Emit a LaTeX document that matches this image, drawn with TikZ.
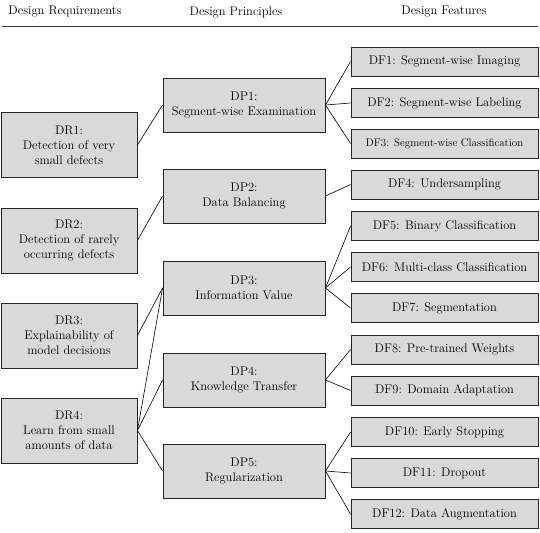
\documentclass[tikz,border=0pt]{standalone}
\usepackage{tikz}

\begin{document}
\begin{tikzpicture}[x=1pt,y=-1pt,
  every node/.style={font=\fontsize{12.5}{15}\selectfont},
  box/.style={draw=black!85,fill=black!15,line width=0.9pt,inner sep=0pt,align=center},
  reqbox/.style={box,minimum width=136pt,minimum height=65pt},
  prinbox/.style={box,minimum width=162pt,minimum height=54pt},
  featbox/.style={box,minimum width=187pt,minimum height=29pt},
  link/.style={black,line width=0.6pt}]
  \useasboundingbox (0,0) rectangle (540,532);

  % column headings
  \node (hreq) at (65,12) {Design Requirements};
  \node (hprin) at (236,12) {Design Principles};
  \node (hfeat) at (444,12) {Design Features};
  \draw[line width=0.9pt,black!80] (2,26) -- (538,26);

  % design requirements
  \node[reqbox] (dr1) at (69,145) {DR1:\\Detection of very\\small defects};
  \node[reqbox] (dr2) at (69,240.5) {DR2:\\Detection of rarely\\occurring defects};
  \node[reqbox] (dr3) at (69,335.5) {DR3:\\Explainability of\\model decisions};
  \node[reqbox] (dr4) at (69,430.5) {DR4:\\Learn from small\\amounts of data};

  % design principles
  \node[prinbox] (dp1) at (244,105) {DP1:\\Segment-wise Examination};
  \node[prinbox] (dp2) at (244,196) {DP2:\\Data Balancing};
  \node[prinbox] (dp3) at (244,288) {DP3:\\Information Value};
  \node[prinbox] (dp4) at (244,380) {DP4:\\Knowledge Transfer};
  \node[prinbox] (dp5) at (244,471) {DP5:\\Regularization};

  % design features
  \node[featbox] (df1) at (444.5,61.5) {DF1: Segment-wise Imaging};
  \node[featbox] (df2) at (444.5,103) {DF2: Segment-wise Labeling};
  \node[featbox,font=\fontsize{11}{13}\selectfont] (df3) at (444.5,143.5) {DF3: Segment-wise Classification};
  \node[featbox] (df4) at (444.5,184.5) {DF4: Undersampling};
  \node[featbox] (df5) at (444.5,226) {DF5: Binary Classification};
  \node[featbox] (df6) at (444.5,267) {DF6: Multi-class Classification};
  \node[featbox] (df7) at (444.5,308) {DF7: Segmentation};
  \node[featbox] (df8) at (444.5,349.5) {DF8: Pre-trained Weights};
  \node[featbox] (df9) at (444.5,390.5) {DF9: Domain Adaptation};
  \node[featbox] (df10) at (444.5,432) {DF10: Early Stopping};
  \node[featbox] (df11) at (444.5,473) {DF11: Dropout};
  \node[featbox] (df12) at (444.5,514) {DF12: Data Augmentation};

  % requirements to principles
  \draw[link] (dr1.east) -- (dp1.west);
  \draw[link] (dr2.east) -- (dp2.west);
  \draw[link] (dr3.east) -- (dp3.west);
  \draw[link] (dr4.east) -- (dp3.west);
  \draw[link] (dr4.east) -- (dp4.west);
  \draw[link] (dr4.east) -- (dp5.west);

  % principles to features
  \foreach \f in {1,2,3} \draw[link] (dp1.east) -- (df\f.west);
  \draw[link] (dp2.east) -- (df4.west);
  \foreach \f in {5,6,7} \draw[link] (dp3.east) -- (df\f.west);
  \foreach \f in {8,9} \draw[link] (dp4.east) -- (df\f.west);
  \foreach \f in {10,11,12} \draw[link] (dp5.east) -- (df\f.west);
\end{tikzpicture}
\end{document}
